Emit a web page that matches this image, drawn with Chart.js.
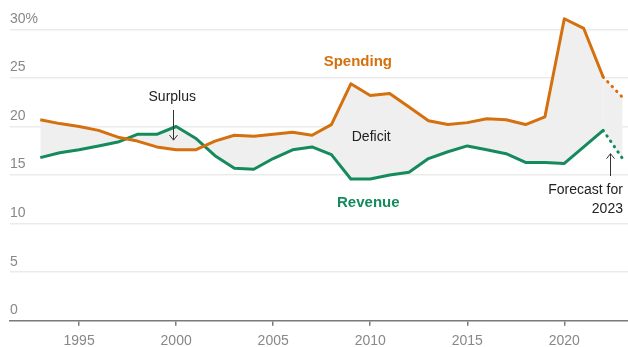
<!DOCTYPE html>
<html>
<head>
<meta charset="utf-8">
<script src="https://cdn.jsdelivr.net/npm/chart.js@4"></script>
<style>
  body { margin: 0; background: #fff; }
  #wrap { width: 628px; height: 347px; position: relative; }
</style>
</head>
<body>
<div id="wrap"><canvas id="chart"></canvas></div>
<script>
// --- Data (share of GDP, %) ---
const years = [1993, 1994, 1995, 1996, 1997, 1998, 1999, 2000, 2001, 2002,
  2003, 2004, 2005, 2006, 2007, 2008, 2009, 2010, 2011, 2012,
  2013, 2014, 2015, 2016, 2017, 2018, 2019, 2020, 2021, 2022, 2023];
const spending = [20.7, 20.3, 20.0, 19.6, 18.9, 18.5, 17.9, 17.6, 17.6, 18.5,
  19.1, 19.0, 19.2, 19.4, 19.1, 20.2, 24.4, 23.2, 23.4, 22.0,
  20.6, 20.2, 20.4, 20.8, 20.7, 20.2, 21.0, 31.1, 30.1, 25.1, 23.0];
const revenue = [16.8, 17.3, 17.6, 18.0, 18.4, 19.2, 19.2, 20.0, 18.8, 17.0,
  15.7, 15.6, 16.7, 17.6, 17.9, 17.1, 14.6, 14.6, 15.0, 15.3,
  16.7, 17.4, 18.0, 17.6, 17.2, 16.3, 16.3, 16.2, 17.9, 19.6, 16.7];
const xTickYears = [1995, 2000, 2005, 2010, 2015, 2020];
const yTickValues = [0, 5, 10, 15, 20, 25, 30];
const forecastFrom = 2022;

const ORANGE = "#d5700f";
const GREEN = "#148a5d";
const FILL = "#efefef";
const FONT = "'Liberation Sans', Arial, sans-serif";

// text labels placed in data coordinates
const notes = [
  { text: "Spending", x: 2009.36, y: 26.7, color: ORANGE, weight: "bold", size: 15, align: "center" },
  { text: "Revenue", x: 2009.9, y: 12.1, color: GREEN, weight: "bold", size: 15, align: "center" },
  { text: "Deficit", x: 2010.05, y: 18.9, color: "#222", weight: "normal", size: 14, align: "center" },
  { text: "Surplus", x: 1999.8, y: 23.0, color: "#222", weight: "normal", size: 14, align: "center" },
  { text: "Forecast for", x: 2023.02, y: 13.4, color: "#222", weight: "normal", size: 14, align: "right" },
  { text: "2023", x: 2023.02, y: 11.5, color: "#222", weight: "normal", size: 14, align: "right" },
];
const arrows = [
  { x: 1999.84, from: 21.7, to: 18.6 },
  { x: 2022.37, from: 14.9, to: 17.2 },
];

const notesPlugin = {
  id: "notes",
  afterDatasetsDraw(chart) {
    const { ctx, scales: { x, y } } = chart;
    ctx.save();
    ctx.textBaseline = "middle";
    notes.forEach((n) => {
      ctx.font = `${n.weight} ${n.size}px ${FONT}`;
      ctx.fillStyle = n.color;
      ctx.textAlign = n.align;
      ctx.fillText(n.text, x.getPixelForValue(n.x), y.getPixelForValue(n.y));
    });
    ctx.strokeStyle = "#333";
    ctx.lineWidth = 1;
    arrows.forEach((a) => {
      const px = Math.round(x.getPixelForValue(a.x)) + 0.5;
      const y0 = y.getPixelForValue(a.from);
      const y1 = y.getPixelForValue(a.to);
      const dir = y1 > y0 ? 1 : -1;
      ctx.beginPath();
      ctx.moveTo(px, y0);
      ctx.lineTo(px, y1);
      ctx.moveTo(px - 4, y1 - dir * 5);
      ctx.lineTo(px, y1);
      ctx.lineTo(px + 4, y1 - dir * 5);
      ctx.stroke();
    });
    ctx.restore();
  },
};

const isForecast = (c) => c.p0.parsed.x >= forecastFrom;
const forecastSegment = {
  borderDash: (c) => (isForecast(c) ? [0.5, 6] : undefined),
  borderCapStyle: (c) => (isForecast(c) ? "round" : undefined),
};

new Chart(document.getElementById("chart"), {
  type: "line",
  data: {
    labels: years,
    datasets: [
      {
        label: "Spending",
        data: years.map((yr, i) => ({ x: yr, y: spending[i] })),
        borderColor: ORANGE,
        borderWidth: 3,
        backgroundColor: FILL,
        fill: { target: "+1", above: FILL, below: FILL },
        segment: forecastSegment,
      },
      {
        label: "Revenue",
        data: years.map((yr, i) => ({ x: yr, y: revenue[i] })),
        borderColor: GREEN,
        borderWidth: 3,
        fill: false,
        segment: forecastSegment,
      },
    ],
  },
  options: {
    responsive: true,
    maintainAspectRatio: false,
    animation: false,
    layout: { padding: { top: 10, left: 10, right: 0, bottom: 0 } },
    elements: {
      point: { radius: 0 },
      line: { tension: 0, borderJoinStyle: "round" },
    },
    plugins: {
      legend: { display: false },
      tooltip: { enabled: false },
      filler: { drawTime: "beforeDatasetsDraw" },
    },
    scales: {
      x: {
        type: "linear",
        min: 1991.44,
        max: 2023.28,
        afterBuildTicks: (s) => { s.ticks = xTickYears.map((v) => ({ value: v })); },
        afterFit: (s) => { s.height = 26.3; },
        border: { display: true, color: "#7a7a7a", width: 1.5 },
        grid: { drawOnChartArea: false, drawTicks: true, tickLength: 5, color: "#7a7a7a", lineWidth: 1.5 },
        ticks: {
          callback: (v) => String(v),
          color: "#888",
          padding: 8,
          maxRotation: 0,
          font: { family: FONT, size: 14, lineHeight: 1 },
        },
      },
      y: {
        min: 0,
        max: 32,
        afterBuildTicks: (s) => { s.ticks = yTickValues.map((v) => ({ value: v })); },
        border: { display: false },
        grid: {
          drawTicks: false,
          lineWidth: 1.5,
          color: (c) => (c.tick && c.tick.value === 0 ? "rgba(0,0,0,0)" : "#ebebeb"),
        },
        ticks: {
          mirror: true,
          padding: 0,
          labelOffset: -10.5,
          color: "#888",
          callback: (v) => (v === 30 ? "30%" : String(v)),
          font: { family: FONT, size: 14 },
        },
      },
    },
  },
  plugins: [notesPlugin],
});
</script>
</body>
</html>
